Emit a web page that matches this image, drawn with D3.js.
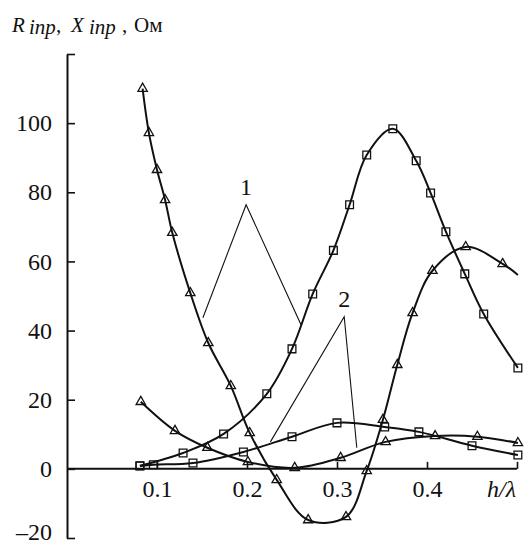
<!DOCTYPE html>
<html>
<head>
<meta charset="utf-8">
<script src="https://cdn.jsdelivr.net/npm/d3@7"></script>
<style>
  body { margin: 0; background: #fff; }
  svg { display: block; }
  svg text { font-family: "Liberation Serif", "Times New Roman", serif; fill: #111; }
</style>
</head>
<body>
<div id="chart"></div>
<script>
// curve 1, triangles
var h1Tri = [0.084, 0.091, 0.100, 0.109, 0.117, 0.137, 0.157, 0.182, 0.203, 0.233, 0.268, 0.310, 0.333, 0.351, 0.367, 0.384, 0.406, 0.443, 0.484, 0.501];
var v1Tri = [110, 97.2, 86.5, 77.8, 68.3, 50.9, 36.4, 24.0, 10.4, -3.2, -14.8, -13.9, -0.6, 14.2, 30.1, 45.1, 57.3, 64.2, 59.3, 56.1];
// curve 1, squares
var h1Sq = [0.081, 0.129, 0.174, 0.222, 0.250, 0.273, 0.296, 0.314, 0.333, 0.362, 0.388, 0.404, 0.421, 0.442, 0.463, 0.501];
var v1Sq = [0.9, 4.6, 10.1, 21.7, 34.7, 50.6, 63.2, 76.4, 90.8, 98.4, 89.1, 79.8, 68.6, 56.4, 44.8, 29.2];
// curve 2, triangles
var h2Tri = [0.082, 0.120, 0.156, 0.201, 0.253, 0.304, 0.354, 0.409, 0.456, 0.501];
var v2Tri = [19.4, 11.0, 6.1, 2.0, 0.3, 3.2, 7.8, 9.5, 9.3, 7.5];
// curve 2, squares
var h2Sq = [0.081, 0.096, 0.140, 0.196, 0.250, 0.300, 0.353, 0.391, 0.450, 0.501];
var v2Sq = [0.8, 1.2, 1.7, 4.9, 9.3, 13.3, 12.1, 10.7, 6.7, 4.0];

var xTicks = [0.1, 0.2, 0.3, 0.4, 0.5];
var yTicks = [-20, 0, 20, 40, 60, 80, 100, 120];

// callout labels: apex, left end, right end in data units
var calloutNames = ['1', '2'];
var calloutApex = [[0.199, 76.4], [0.308, 44.0]];
var calloutLeft = [[0.151, 43.7], [0.226, 7.8]];
var calloutRight = [[0.260, 41.7], [0.322, 6.1]];

var serif = '"Liberation Serif", "Times New Roman", serif';
var width = 525, height = 546;

var svg = d3.select('#chart').append('svg')
    .attr('width', width)
    .attr('height', height)
    .attr('font-family', serif);

var x = d3.scaleLinear().domain([0, 0.5]).range([67, 517]);
var y = d3.scaleLinear().domain([-20, 120]).range([538, 54]);

// axes
var yAxis = d3.axisLeft(y)
    .tickValues(yTicks)
    .tickSizeInner(-8)
    .tickSizeOuter(0)
    .tickPadding(15)
    .tickFormat(function (d) {
        if (d === 120) return '';
        return d < 0 ? '\u2013' + (-d) : d;
    });

var gy = svg.append('g')
    .attr('transform', 'translate(' + x(0) + ',0)')
    .call(yAxis);

// keep the bottom label inside the picture
gy.selectAll('.tick text')
    .filter(function (d) { return d < 0; })
    .attr('y', -6);

var xAxis = d3.axisBottom(x)
    .tickValues(xTicks)
    .tickSizeInner(-7)
    .tickSizeOuter(0)
    .tickPadding(11)
    .tickFormat(function (d) { return d === 0.5 ? '' : d3.format('.1f')(d); });

var gx = svg.append('g')
    .attr('transform', 'translate(0,' + y(0) + ')')
    .call(xAxis);

gx.select('.domain').attr('d', 'M' + x(0) + ',0H' + x(0.5));

[gx, gy].forEach(function (g) {
    g.attr('font-family', serif).attr('font-size', 24);
    g.select('.domain').attr('stroke', '#111').attr('stroke-width', 2);
    g.selectAll('.tick line').attr('stroke', '#111').attr('stroke-width', 1.6);
    g.selectAll('.tick text')
        .style('font-family', serif)
        .style('font-size', '24px')
        .attr('fill', '#111');
});

// axis titles
svg.append('text')
    .attr('x', 487).attr('y', 497)
    .style('font-family', serif)
    .style('font-size', '24px')
    .style('font-style', 'italic')
    .text('h/\u03bb');

var title = [
    ['R', 12, 32, 'italic'],
    ['inp', 29, 34, 'italic'],
    [',', 56, 32, 'normal'],
    ['X', 71, 32, 'italic'],
    ['inp', 89, 34, 'italic'],
    [',', 122, 32, 'normal'],
    ['\u041e\u043c', 134, 32, 'normal']
];
svg.selectAll('.title')
    .data(title)
    .enter()
    .append('text')
    .attr('class', 'title')
    .attr('x', function (d) { return d[1]; })
    .attr('y', function (d) { return d[2]; })
    .style('font-family', serif)
    .style('font-size', '21px')
    .style('font-style', function (d) { return d[3]; })
    .text(function (d) { return d[0]; });

// curves
var series = [
    { h: h1Tri, v: v1Tri, shape: 'tri', skipLast: true },
    { h: h1Sq, v: v1Sq, shape: 'sq', skipLast: false },
    { h: h2Tri, v: v2Tri, shape: 'tri', skipLast: false },
    { h: h2Sq, v: v2Sq, shape: 'sq', skipLast: false }
];

var line = d3.line()
    .x(function (d) { return x(d[0]); })
    .y(function (d) { return y(d[1]); })
    .curve(d3.curveCatmullRom.alpha(0.5));

series.forEach(function (s) {
    var pts = s.h.map(function (h, i) { return [h, s.v[i]]; });
    svg.append('path')
        .datum(pts)
        .attr('d', line)
        .attr('fill', 'none')
        .attr('stroke', '#111')
        .attr('stroke-width', 2);
});

var triSym = d3.symbol().type(d3.symbolTriangle).size(38);
var sqSym = d3.symbol().type(d3.symbolSquare).size(60);

series.forEach(function (s) {
    var pts = s.h.map(function (h, i) { return [h, s.v[i]]; });
    if (s.skipLast) pts = pts.slice(0, -1);
    svg.append('g')
        .selectAll('path')
        .data(pts)
        .enter()
        .append('path')
        .attr('d', s.shape === 'tri' ? triSym : sqSym)
        .attr('transform', function (d) {
            return 'translate(' + x(d[0]) + ',' + y(d[1]) + ')';
        })
        .attr('fill', 'none')
        .attr('stroke', '#111')
        .attr('stroke-width', 1.3);
});

// callouts
calloutNames.forEach(function (name, i) {
    var a = calloutApex[i], l = calloutLeft[i], r = calloutRight[i];
    svg.append('path')
        .attr('d', 'M' + x(l[0]) + ',' + y(l[1]) +
            'L' + x(a[0]) + ',' + y(a[1]) +
            'L' + x(r[0]) + ',' + y(r[1]))
        .attr('fill', 'none')
        .attr('stroke', '#111')
        .attr('stroke-width', 1.1);
    svg.append('text')
        .attr('x', x(a[0]))
        .attr('y', y(a[1]) - 10)
        .attr('text-anchor', 'middle')
        .style('font-family', serif)
        .style('font-size', '24px')
        .text(name);
});
</script>
</body>
</html>
